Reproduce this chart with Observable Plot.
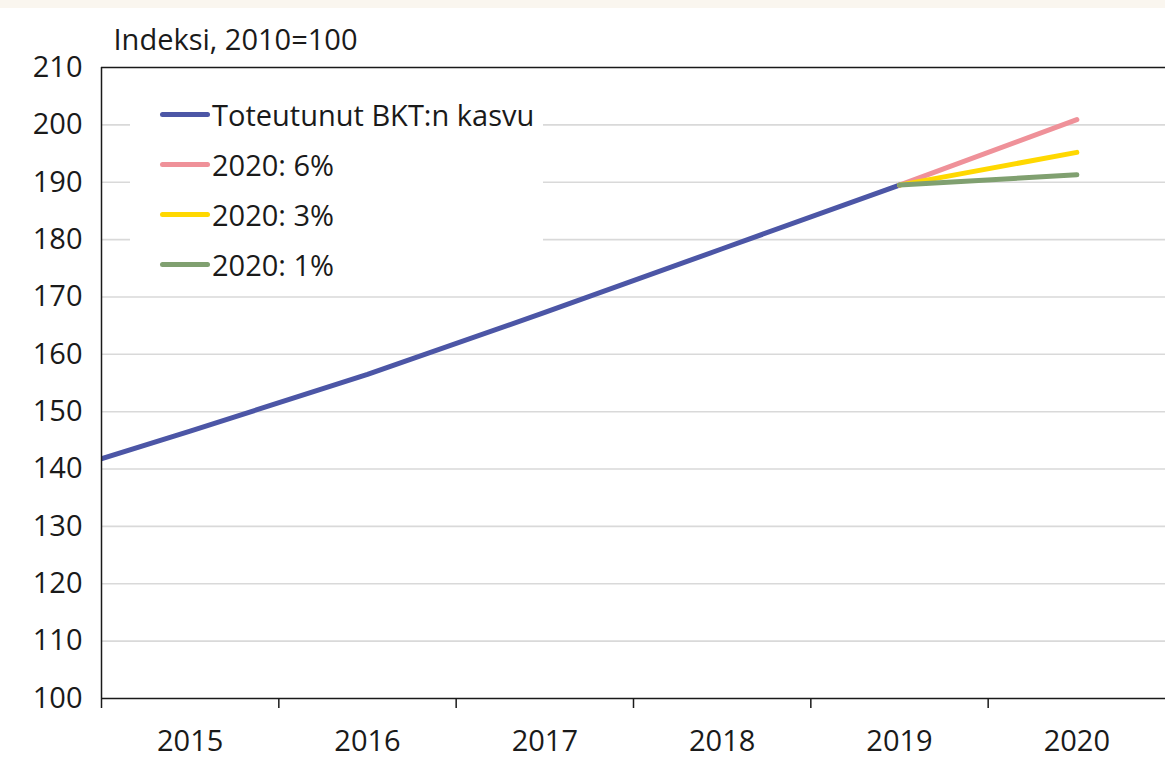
<!DOCTYPE html>
<html>
<head>
<meta charset="utf-8">
<script src="https://cdn.jsdelivr.net/npm/d3@7"></script>
<script src="https://cdn.jsdelivr.net/npm/@observablehq/plot@0.6"></script>
<style>
  html, body { margin: 0; padding: 0; background: #ffffff; }
  #wrap { position: relative; width: 1165px; height: 770px; overflow: hidden; font-family: "Open Sans", Lato, sans-serif; }
  #strip { position: absolute; left: 0; top: 0; width: 1165px; height: 8px; background: #faf6ef; }
  #legend { position: absolute; left: 130px; top: 88px; width: 413px; height: 200px; background: #ffffff; }
  .row { position: absolute; left: 30px; height: 30px; display: flex; align-items: center; }
  .sw { width: 50px; height: 5px; border-radius: 3px; margin-right: 2px; }
  .lab { font-size: 29px; color: #1a1a1a; white-space: nowrap; }
</style>
</head>
<body>
<div id="wrap">
  <div id="chart"></div>
  <div id="strip"></div>
  <div id="legend"></div>
</div>
<script>
// ---- data ----
const years = [2014, 2015, 2016, 2017, 2018, 2019];
const actual = [137.0, 146.6, 156.5, 167.3, 178.4, 189.5];
const forecastYears = [2019, 2020];
const scen6 = [189.5, 200.9];
const scen3 = [189.5, 195.2];
const scen1 = [189.5, 191.3];
const tickYears = [2015, 2016, 2017, 2018, 2019, 2020];
const yTicks = [100, 110, 120, 130, 140, 150, 160, 170, 180, 190, 200, 210];
const seriesNames = ["Toteutunut BKT:n kasvu", "2020: 6%", "2020: 3%", "2020: 1%"];
const seriesColors = ["#4c56a6", "#ef9199", "#ffd800", "#80a070"];
const yTitle = "Indeksi, 2010=100";

const actualData = years.map((y, i) => ({year: y, value: actual[i]}));
const mk = arr => forecastYears.map((y, i) => ({year: y, value: arr[i]}));
const s6 = mk(scen6), s3 = mk(scen3), s1 = mk(scen1);
const boundaries = tickYears.map(y => y - 0.5);
const grid = yTicks.filter(v => v !== yTicks[0] && v !== yTicks[yTicks.length - 1]);

const font = "'Open Sans', Lato, sans-serif";
const lineOpts = (c) => ({x: "year", y: "value", stroke: c, strokeWidth: 5, strokeLinecap: "round", strokeLinejoin: "round", clip: true});

const plot = Plot.plot({
  width: 1165,
  height: 770,
  marginLeft: 101,
  marginRight: 0,
  marginTop: 67,
  marginBottom: 72,
  style: {fontFamily: font, background: "transparent", color: "#1a1a1a"},
  x: {domain: [2014.5, 2020.5], axis: null},
  y: {domain: [100, 210], axis: null},
  marks: [
    Plot.ruleY(grid, {stroke: "#d9d9d9", strokeWidth: 1.6}),
    Plot.lineY(actualData, lineOpts(seriesColors[0])),
    Plot.lineY(s6, lineOpts(seriesColors[1])),
    Plot.lineY(s3, lineOpts(seriesColors[2])),
    Plot.lineY(s1, lineOpts(seriesColors[3])),
    Plot.ruleY([yTicks[0]], {stroke: "#1a1a1a", strokeWidth: 1.5}),
    Plot.ruleY([yTicks[yTicks.length - 1]], {stroke: "#1a1a1a", strokeWidth: 1.5}),
    Plot.ruleX([boundaries[0]], {stroke: "#1a1a1a", strokeWidth: 1.5}),
    Plot.axisY({ticks: yTicks, tickSize: 0, tickPadding: 19, fontSize: 29, tickFormat: d => String(d), label: null}),
    Plot.axisX({ticks: boundaries, tickSize: 10, tickFormat: () => "", label: null, stroke: "#1a1a1a", strokeWidth: 1.5}),
    Plot.axisX({ticks: tickYears, tickSize: 0, tickPadding: 32, fontSize: 29, tickFormat: d => String(d), label: null}),
    Plot.text([yTitle], {frameAnchor: "top-left", dx: 12, dy: -27, fontSize: 29, textAnchor: "start", lineAnchor: "middle", fill: "#1a1a1a"})
  ]
});
document.getElementById("chart").appendChild(plot);

// legend
const legend = document.getElementById("legend");
seriesNames.forEach((name, i) => {
  const row = document.createElement("div");
  row.className = "row";
  row.style.top = (26 - 15 + i * 50.3) + "px";
  const sw = document.createElement("div");
  sw.className = "sw";
  sw.style.background = seriesColors[i];
  const lab = document.createElement("span");
  lab.className = "lab";
  lab.textContent = name;
  row.appendChild(sw);
  row.appendChild(lab);
  legend.appendChild(row);
});
</script>
</body>
</html>
